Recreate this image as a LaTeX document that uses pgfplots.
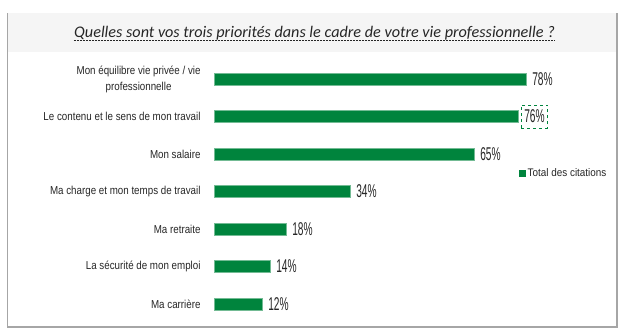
\documentclass[border=0pt]{standalone}
\usepackage{fontspec}
\setmainfont{Liberation Sans}
\newfontfamily\labelfont[FakeStretch=0.85]{Liberation Sans}
\newfontfamily\pctfont[FakeStretch=0.55]{Liberation Sans}
\newfontfamily\legfont[FakeStretch=0.9]{Liberation Sans}
\newfontfamily\titlefont{Carlito}
\usepackage{pgfplots}
\pgfplotsset{compat=1.18}
\definecolor{barg}{RGB}{0,132,61}
\definecolor{bandgray}{RGB}{245,245,245}
\definecolor{framegray}{RGB}{166,166,166}
\definecolor{txt}{RGB}{38,38,38}
\begin{document}
\begin{tikzpicture}[x=1pt,y=1pt]
\path[use as bounding box] (0,0) rectangle (623,333);
% title band and frame
\fill[bandgray] (8,281) rectangle (617,320);
\draw[framegray,line width=1.2pt] (7.5,320) -- (7.5,6) -- (617,6) -- (617,320);
\node[inner sep=0pt,anchor=base,text=txt,font=\titlefont\itshape\fontsize{16.2}{19}\selectfont] (title) at (314.5,296) {Quelles sont vos trois priorités dans le cadre de votre vie professionnelle ?};
\draw[txt,line width=0.6pt,dash pattern=on 2pt off 1pt] ([yshift=-3pt]title.base west) -- ([yshift=-3pt]title.base east);
\begin{axis}[
  at={(214pt,10.25pt)}, anchor=south west,
  scale only axis, width=312pt, height=262.5pt,
  xmin=0, xmax=78, ymin=-0.5, ymax=6.5,
  clip=false,
  axis line style={draw=none},
  tick style={draw=none},
  xtick=\empty,
  ytick={0,1,2,3,4,5,6},
  yticklabels={{Ma carrière},{La sécurité de mon emploi},{Ma retraite},{Ma charge et mon temps de travail},{Mon salaire},{Le contenu et le sens de mon travail},{Mon équilibre vie privée / vie\\professionnelle}},
  yticklabel style={inner sep=0pt, xshift=-9pt, align=center, text=txt, font=\labelfont\fontsize{11.5}{16}\selectfont},
  xbar, bar width=12pt,
  nodes near coords={\pgfmathprintnumber[assume math mode=true]{\pgfplotspointmeta}\%},
  point meta=x,
  every node near coord/.append style={anchor=west, inner sep=0pt, xshift=6pt, text=txt, font=\pctfont\fontsize{18.5}{18.5}\selectfont},
  legend style={at={(0.9776,0.5705)}, anchor=west, draw=none, fill=none, inner sep=0pt, font=\legfont\fontsize{11}{13}\selectfont, text=txt},
  legend image code/.code={\fill[barg] (0pt,-3pt) rectangle (6pt,3pt);},
]
\addplot[fill=barg, draw=barg!55!white, line width=0.5pt, bar shift=0pt] coordinates {(78,6) (65,4) (34,3) (18,2) (14,1) (12,0)};
\addlegendentry{Total des citations}
\addplot[fill=barg, draw=barg!55!white, line width=0.5pt, bar shift=0pt, forget plot,
  every node near coord/.append style={draw=barg, dashed, line width=0.5pt, inner xsep=3pt, inner ysep=5pt, xshift=-3pt}] coordinates {(76,5)};
\end{axis}
\end{tikzpicture}
\end{document}
